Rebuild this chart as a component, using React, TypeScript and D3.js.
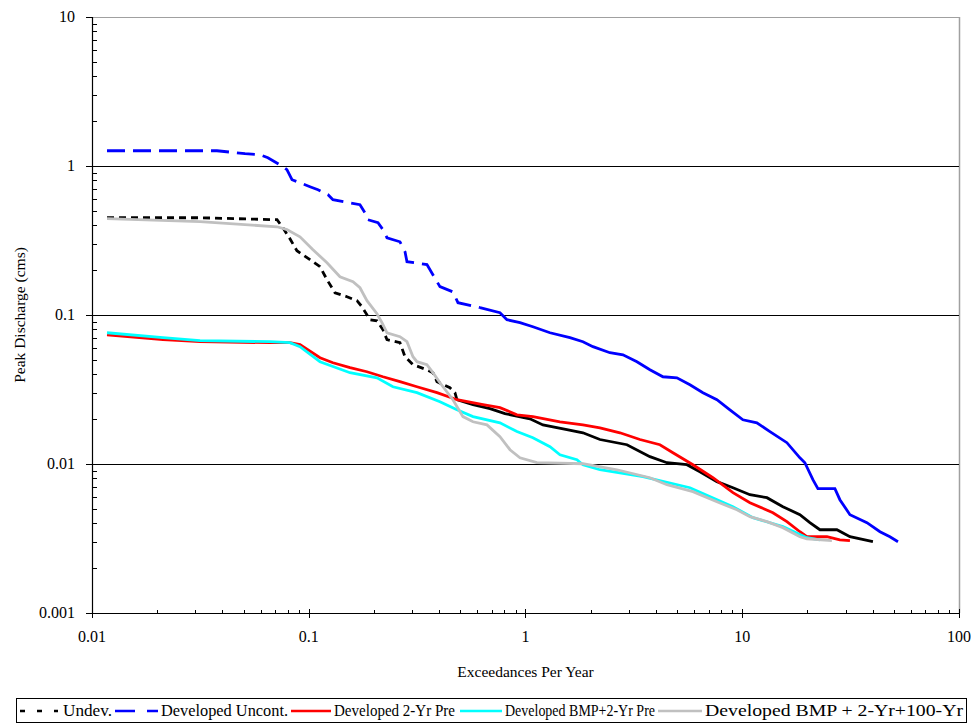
import React from "react";
import * as d3 from "d3";

// ---------- data (x = exceedances per year, y = peak discharge cms) ----------
const undevData: [number, number][] = [
  [0.01173, 0.4495], [0.0315, 0.4495], [0.0714, 0.436], [0.076, 0.385], [0.0819, 0.325],
  [0.0882, 0.27], [0.1013, 0.235], [0.1127, 0.211], [0.1214, 0.1725], [0.1321, 0.1411],
  [0.1501, 0.1327], [0.1669, 0.1247], [0.176, 0.1137], [0.1916, 0.093], [0.2064, 0.0915],
  [0.22, 0.0797], [0.2296, 0.0683], [0.2635, 0.0652], [0.278, 0.0525], [0.3026, 0.0464],
  [0.351, 0.0429], [0.3741, 0.041], [0.3905, 0.0357], [0.4481, 0.0325], [0.4727, 0.0301],
  [0.4828, 0.027], [0.5725, 0.025], [0.6855, 0.0235], [0.804, 0.0218], [1.048, 0.0201],
  [1.204, 0.0183], [1.553, 0.017], [1.841, 0.0162], [2.205, 0.0146], [2.938, 0.01347],
  [3.75, 0.0112], [4.492, 0.0102], [5.556, 0.00989], [6.377, 0.00888], [7.641, 0.00761],
  [9.06, 0.00693], [10.85, 0.00622], [13.0, 0.00594], [15.4, 0.00517], [18.45, 0.00457],
  [20.51, 0.00404], [22.82, 0.00362], [27.33, 0.00362], [31.39, 0.00325], [40.07, 0.00301],
];

const uncontData: [number, number][] = [
  [0.01173, 1.266], [0.0377, 1.266], [0.0508, 1.209], [0.0596, 1.191], [0.0648, 1.137],
  [0.076, 0.989], [0.0793, 0.944], [0.0837, 0.809], [0.1013, 0.726], [0.1103, 0.693],
  [0.1227, 0.642], [0.1293, 0.594], [0.1723, 0.55], [0.1817, 0.486], [0.1875, 0.436],
  [0.2087, 0.416], [0.22, 0.374], [0.2296, 0.33], [0.2635, 0.31], [0.278, 0.266],
  [0.2839, 0.228], [0.351, 0.218], [0.403, 0.155], [0.4625, 0.143], [0.488, 0.121],
  [0.6164, 0.112], [0.7625, 0.1036], [0.821, 0.093], [0.943, 0.0888], [1.082, 0.0834],
  [1.297, 0.076], [1.603, 0.0704], [1.841, 0.0662], [2.047, 0.0613], [2.452, 0.0558],
  [2.816, 0.0541], [3.267, 0.0486], [3.75, 0.0429], [4.306, 0.0385], [4.995, 0.0379],
  [5.736, 0.034], [6.585, 0.0301], [7.641, 0.027], [8.771, 0.0231], [10.07, 0.0198],
  [11.68, 0.0189], [13.42, 0.0165], [16.07, 0.0139], [18.45, 0.011], [19.45, 0.0102],
  [21.18, 0.00785], [22.34, 0.00683], [26.76, 0.00683], [28.21, 0.00576], [31.39, 0.00457],
  [37.6, 0.00404], [43.2, 0.00351], [48.0, 0.00325], [52.3, 0.00301],
];

const dev2yrData: [number, number][] = [
  [0.01173, 0.0737], [0.02126, 0.0683], [0.0315, 0.0662], [0.0663, 0.0652], [0.0819, 0.0652],
  [0.0911, 0.0632], [0.1127, 0.0517], [0.1293, 0.0478], [0.155, 0.0443], [0.1856, 0.0416],
  [0.22, 0.0385], [0.2635, 0.0357], [0.3157, 0.033], [0.3905, 0.0301], [0.4828, 0.027],
  [0.6365, 0.025], [0.7625, 0.0239], [0.913, 0.0214], [1.082, 0.0208], [1.442, 0.0192],
  [1.841, 0.0183], [2.205, 0.0175], [2.727, 0.0162], [3.373, 0.0146], [4.171, 0.01347],
  [4.788, 0.0119], [5.922, 0.00989], [7.322, 0.00809], [9.06, 0.00642], [10.85, 0.0055],
  [13.85, 0.00471], [16.07, 0.0041], [18.45, 0.00351], [19.87, 0.00325], [24.58, 0.00325],
  [28.21, 0.0031], [31.39, 0.00306],
];

const bmp2yrData: [number, number][] = [
  [0.01173, 0.076], [0.02126, 0.0704], [0.0315, 0.0672], [0.0663, 0.0662], [0.0819, 0.0652],
  [0.0911, 0.0613], [0.1127, 0.0486], [0.155, 0.041], [0.2064, 0.0379], [0.2446, 0.033],
  [0.3157, 0.0301], [0.403, 0.0262], [0.4828, 0.0231], [0.5725, 0.0208], [0.7625, 0.0189],
  [0.913, 0.0165], [1.082, 0.015], [1.297, 0.01306], [1.442, 0.01154], [1.727, 0.01069],
  [1.841, 0.00989], [2.205, 0.00915], [3.482, 0.00822], [5.736, 0.00693], [9.06, 0.00517],
  [11.2, 0.00436], [15.4, 0.0038], [19.87, 0.0032], [22.82, 0.0031],
];

const bmp100yrData: [number, number][] = [
  [0.01173, 0.443], [0.0315, 0.423], [0.0714, 0.391], [0.0793, 0.374], [0.0911, 0.335],
  [0.1046, 0.274], [0.1214, 0.2244], [0.1393, 0.1807], [0.16, 0.1673], [0.1723, 0.1524],
  [0.1856, 0.1247], [0.2064, 0.102], [0.2177, 0.0888], [0.2296, 0.076], [0.2635, 0.0715],
  [0.2839, 0.0662], [0.3026, 0.0525], [0.3157, 0.0486], [0.351, 0.0464], [0.3741, 0.041],
  [0.403, 0.0351], [0.4625, 0.027], [0.5146, 0.0208], [0.5725, 0.0192], [0.664, 0.0183],
  [0.7625, 0.01525], [0.848, 0.01247], [0.943, 0.011], [1.129, 0.0102], [1.841, 0.01004],
  [2.641, 0.00915], [3.75, 0.00809], [4.492, 0.00726], [5.922, 0.00652], [7.641, 0.00558],
  [9.45, 0.00493], [10.85, 0.00443], [13.0, 0.0041], [15.4, 0.00374], [18.45, 0.00325],
  [19.87, 0.00315], [25.92, 0.00306],
];

const seriesNames = [
  "Undev.",
  "Developed Uncont.",
  "Developed 2-Yr Pre",
  "Developed BMP+2-Yr Pre",
  "Developed BMP + 2-Yr+100-Yr",
];

const xTicks = [0.01, 0.1, 1, 10, 100];
const xTickLabels = ["0.01", "0.1", "1", "10", "100"];
const yTicks = [0.001, 0.01, 0.1, 1, 10];
const yTickLabels = ["0.001", "0.01", "0.1", "1", "10"];
const xTitle = "Exceedances Per Year";
const yTitle = "Peak Discharge (cms)";

// ---------- layout ----------
const W = 971;
const H = 725;
const L = 92;
const R = 959;
const T = 17;
const B = 613;
const FONT = '"Liberation Serif", "Times New Roman", Times, serif';
const fontStyle = { fontFamily: FONT };

// dashed series: dashes visible where segments are long (left part), dense steps look solid
const series = [
  { data: undevData, color: "#000000", dash: "7,5", dashUntil: 0.48, width: 2.8 },
  { data: uncontData, color: "#0000FF", dash: "18,8", dashUntil: 0.49, width: 2.8 },
  { data: dev2yrData, color: "#FF0000", dash: "", dashUntil: 0, width: 2.8 },
  { data: bmp2yrData, color: "#00FFFF", dash: "", dashUntil: 0, width: 2.8 },
  { data: bmp100yrData, color: "#C0C0C0", dash: "", dashUntil: 0, width: 2.8 },
];

const legendItems = [
  { sx0: 20, sx1: 58, tx: 63, tw: 49 },
  { sx0: 115, sx1: 158, tx: 161, tw: 127 },
  { sx0: 291, sx1: 331, tx: 334, tw: 121 },
  { sx0: 460, sx1: 502, tx: 505, tw: 150 },
  { sx0: 658, sx1: 702, tx: 705, tw: 258 },
];

export default function App() {
  const x = d3.scaleLog().domain([0.01, 100]).range([L, R]);
  const y = d3.scaleLog().domain([0.001, 10]).range([B, T]);
  const line = d3
    .line<[number, number]>()
    .x((d) => x(d[0]))
    .y((d) => y(d[1]));

  const xMinor: number[] = [];
  const yMinor: number[] = [];
  for (let e = -2; e < 2; e++) for (let m = 2; m <= 9; m++) xMinor.push(m * Math.pow(10, e));
  for (let e = -3; e < 1; e++) for (let m = 2; m <= 9; m++) yMinor.push(m * Math.pow(10, e));

  const paths: React.ReactNode[] = [];
  series.forEach((s, i) => {
    if (s.dash) {
      const idx = s.data.findIndex((d) => d[0] > s.dashUntil);
      const dashed = s.data.slice(0, idx + 1);
      const solid = s.data.slice(idx);
      paths.push(
        <path key={"sd" + i} d={line(dashed) || ""} fill="none" stroke={s.color} strokeWidth={s.width} strokeDasharray={s.dash} />
      );
      paths.push(
        <path key={"ss" + i} d={line(solid) || ""} fill="none" stroke={s.color} strokeWidth={s.width} />
      );
    } else {
      paths.push(
        <path key={"s" + i} d={line(s.data) || ""} fill="none" stroke={s.color} strokeWidth={s.width} />
      );
    }
  });

  const py = (v: number) => Math.round(y(v)) + 0.5;
  const px = (v: number) => Math.round(x(v)) + 0.5;

  return (
    <svg
      width={W}
      height={H}
      style={{ position: "absolute", left: 0, top: 0, background: "#fff", fontFamily: FONT }}
    >
      <rect x={0} y={0} width={W} height={H} fill="#fff" />
      {/* borders top/right */}
      <line x1={L} x2={R} y1={T + 0.5} y2={T + 0.5} stroke="#a0a0a0" strokeWidth={1} />
      <line x1={R + 0.5} x2={R + 0.5} y1={T} y2={B} stroke="#a0a0a0" strokeWidth={1.5} />
      {/* gridlines */}
      {yTicks
        .filter((v) => v > 0.001 && v < 10)
        .map((v) => (
          <line key={"g" + v} x1={L} x2={R} y1={py(v)} y2={py(v)} stroke="#000" strokeWidth={1} />
        ))}
      {/* series */}
      {paths}
      {/* axes */}
      <line x1={L + 0.5} x2={L + 0.5} y1={T} y2={B} stroke="#000" strokeWidth={1.2} />
      <line x1={L} x2={R} y1={B + 0.5} y2={B + 0.5} stroke="#000" strokeWidth={1.2} />
      {yTicks.map((v) => (
        <line key={"yt" + v} x1={L - 6} x2={L} y1={py(v)} y2={py(v)} stroke="#000" />
      ))}
      {yMinor.map((v) => (
        <line key={"ym" + v} x1={L} x2={L + 5} y1={py(v)} y2={py(v)} stroke="#000" />
      ))}
      {xTicks.map((v) => (
        <line key={"xt" + v} x1={px(v)} x2={px(v)} y1={B - 4} y2={B + 5} stroke="#000" />
      ))}
      {xMinor.map((v) => (
        <line key={"xm" + v} x1={px(v)} x2={px(v)} y1={B - 3} y2={B} stroke="#000" />
      ))}
      {/* tick labels */}
      {yTicks.map((v, i) => (
        <text key={"yl" + v} x={75} y={y(v) + 5} textAnchor="end" fontSize={16} fill="#000" style={fontStyle}>
          {yTickLabels[i]}
        </text>
      ))}
      {xTicks.map((v, i) => (
        <text key={"xl" + v} x={x(v)} y={642} textAnchor="middle" fontSize={16} fill="#000" style={fontStyle}>
          {xTickLabels[i]}
        </text>
      ))}
      {/* axis titles */}
      <text x={(L + R) / 2} y={677} textAnchor="middle" fontSize={15.5} fill="#000" style={fontStyle}>
        {xTitle}
      </text>
      <text transform={`translate(25,315) rotate(-90)`} textAnchor="middle" fontSize={15.5} fill="#000" style={fontStyle}>
        {yTitle}
      </text>
      {/* legend */}
      <rect x={16.5} y={698.5} width={950} height={24} fill="#fff" stroke="#000" strokeWidth={1} />
      {legendItems.map((it, i) => (
        <g key={"lg" + i}>
          <line
            x1={it.sx0}
            x2={it.sx1}
            y1={711}
            y2={711}
            stroke={series[i].color}
            strokeWidth={2.5}
            strokeDasharray={i === 0 ? "5,12" : i === 1 ? "20,12" : undefined}
          />
          <text
            x={it.tx}
            y={716}
            fontSize={16}
            fill="#000"
            style={fontStyle}
            textLength={it.tw}
            lengthAdjust="spacingAndGlyphs"
          >
            {seriesNames[i]}
          </text>
        </g>
      ))}
    </svg>
  );
}
